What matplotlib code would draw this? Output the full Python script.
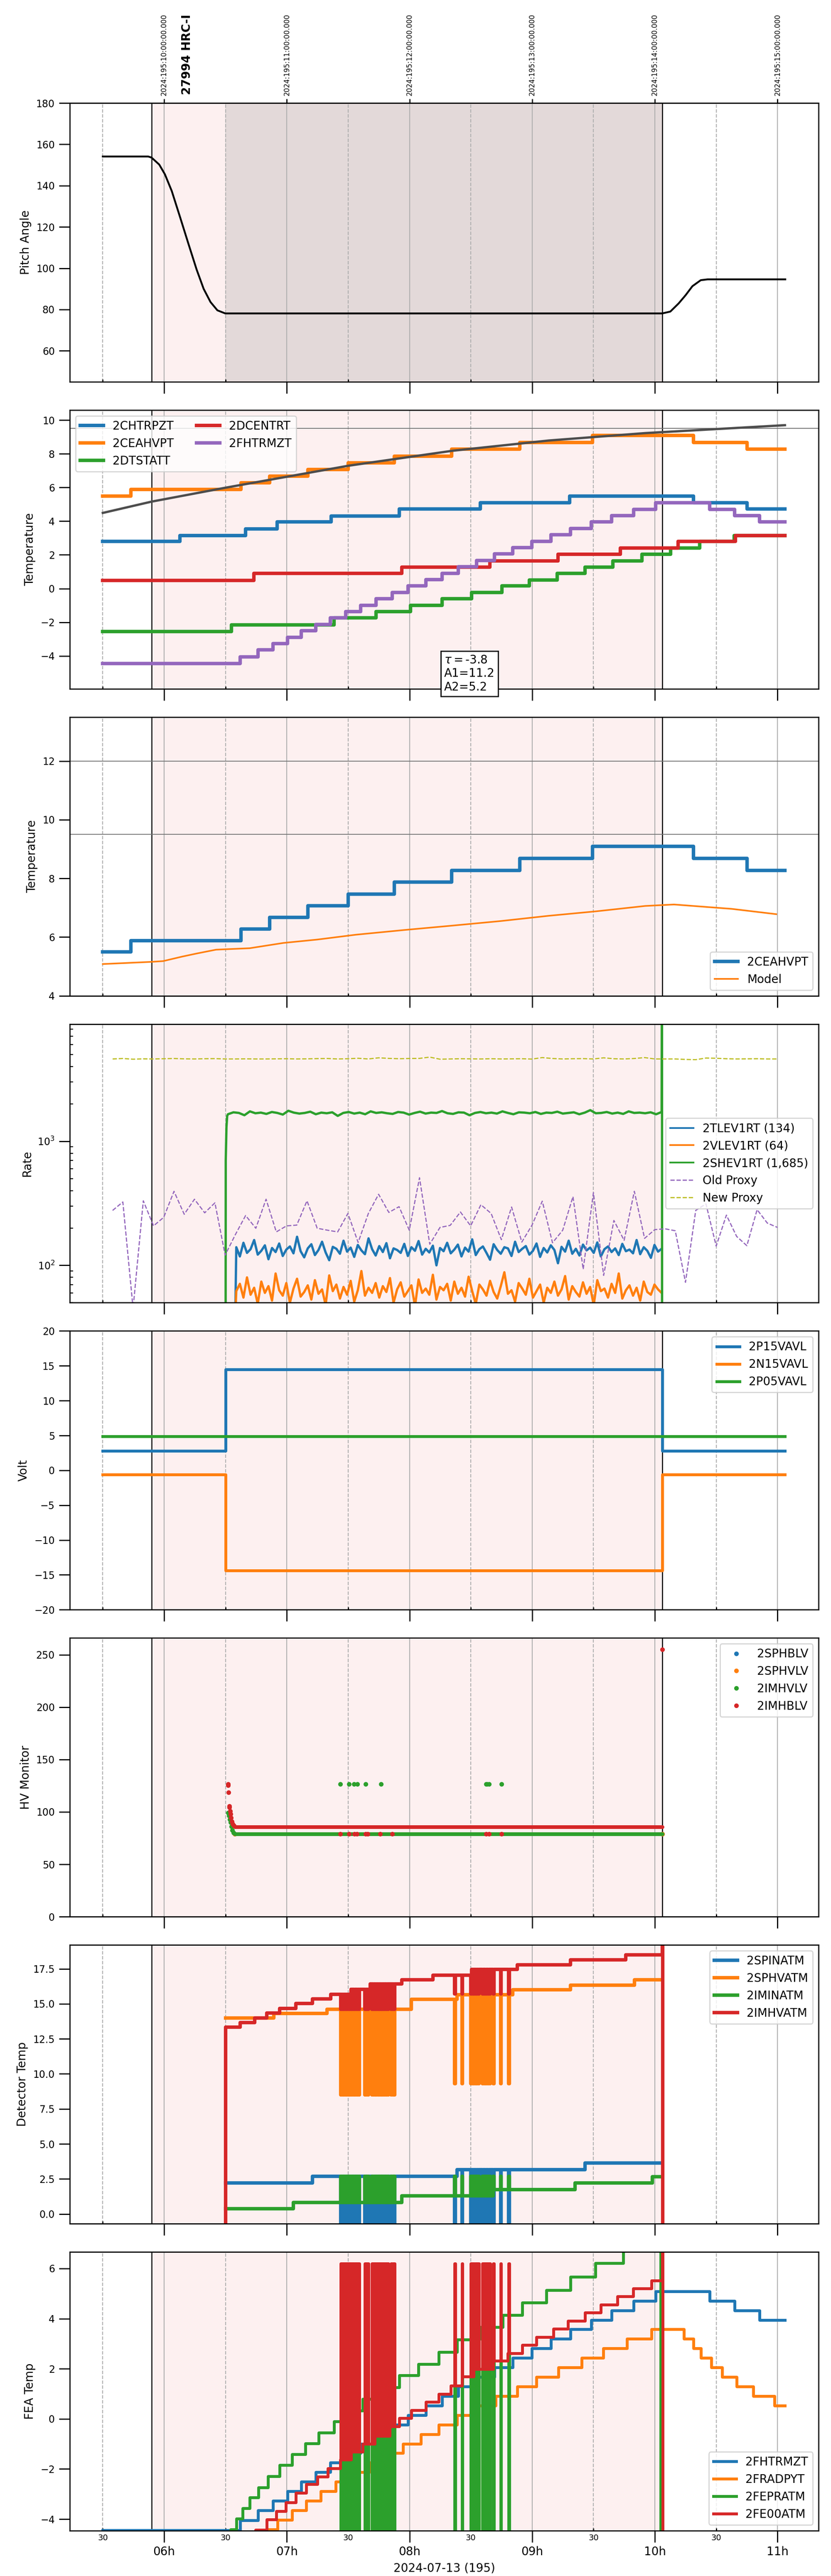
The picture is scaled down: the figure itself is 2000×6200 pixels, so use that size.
import numpy as np
import matplotlib
matplotlib.use('Agg')
import matplotlib.pyplot as plt
from matplotlib.ticker import FixedLocator, FixedFormatter
import matplotlib.transforms as mtransforms

# times are hours of 2024-07-13 (local), UTC = local + 4h
obs_start, obs_stop = 5.897, 10.061
dwell_start = 6.498
x_lim = (5.231, 11.334)
hour_ticks = [6, 7, 8, 9, 10, 11]
hour_labels = ['06h', '07h', '08h', '09h', '10h', '11h']
half_ticks = [5.5, 6.5, 7.5, 8.5, 9.5, 10.5]
half_labels = ['30', '30', '30', '30', '30', '30']
utc_labels = ['2024:195:10:00:00.000', '2024:195:11:00:00.000', '2024:195:12:00:00.000',
              '2024:195:13:00:00.000', '2024:195:14:00:00.000', '2024:195:15:00:00.000']
obsid_label = '27994 HRC-I'
obsid_x = 6.186

# pitch
pitch_t = [5.5, 5.870, 5.897, 5.960, 6.006, 6.062, 6.130, 6.197, 6.265, 6.322, 6.378, 6.434, 6.498,
           10.060, 10.126, 10.193, 10.250, 10.306, 10.374, 10.430, 11.063]
pitch_v = [154.1, 154.1, 153.6, 150.2, 145.5, 137.4, 124.7, 112.0, 99.3, 90.0, 83.6, 79.6, 78.1,
           78.1, 79.0, 82.9, 86.9, 91.3, 94.2, 94.6, 94.6]

# temperature panel (step series: change times, levels, last entry = end)
chtrpzt_t = [5.5, 6.129, 6.663, 6.922, 7.362, 7.917, 8.577, 9.304, 10.313, 10.750, 11.06]
chtrpzt_v = [2.79, 3.15, 3.55, 3.96, 4.31, 4.72, 5.10, 5.48, 5.10, 4.72, 4.72]
ceahvpt_t = [5.5, 5.728, 6.628, 6.860, 7.170, 7.500, 7.877, 8.345, 8.899, 9.492, 10.313, 10.750, 11.06]
ceahvpt_v = [5.49, 5.88, 6.28, 6.67, 7.07, 7.47, 7.87, 8.27, 8.68, 9.09, 8.68, 8.27, 8.27]
dtstatt_t = [5.5, 6.549, 7.386, 7.728, 8.007, 8.266, 8.506, 8.753, 8.977, 9.205, 9.429, 9.657,
             9.893, 10.129, 10.364, 10.647, 11.06]
dtstatt_v = [-2.55, -2.15, -1.75, -1.37, -0.99, -0.61, -0.23, 0.15, 0.51, 0.89, 1.27, 1.65,
             2.03, 2.41, 2.79, 3.15, 3.15]
dcentrt_t = [5.5, 6.730, 7.936, 8.655, 9.209, 9.720, 10.188, 10.655, 11.06]
dcentrt_v = [0.49, 0.89, 1.27, 1.65, 2.03, 2.41, 2.79, 3.15, 3.15]
fhtrmzt_t = [5.5, 6.620, 6.765, 6.887, 7.005, 7.119, 7.237, 7.355, 7.480, 7.602, 7.728, 7.858,
             7.987, 8.133, 8.266, 8.396, 8.545, 8.691, 8.840, 8.997, 9.154, 9.311, 9.480, 9.649,
             9.826, 10.007, 10.447, 10.651, 10.852, 11.06]
fhtrmzt_v = [-4.45, -4.05, -3.65, -3.27, -2.89, -2.51, -2.13, -1.75, -1.37, -0.99, -0.61, -0.23,
             0.15, 0.53, 0.91, 1.29, 1.67, 2.05, 2.43, 2.81, 3.19, 3.57, 3.95, 4.33,
             4.71, 5.09, 4.71, 4.33, 3.95, 3.95]
trend_t = [5.5, 5.897, 6.502, 7.5, 8.349, 9.135, 9.921, 11.06]
trend_v = [4.49, 5.16, 5.99, 7.29, 8.18, 8.79, 9.23, 9.70]
fit_text = '$\\tau=$-3.8\nA1=11.2\nA2=5.2'

# model panel
model_t = [5.5, 5.897, 5.991, 6.148, 6.266, 6.423, 6.698, 6.973, 7.249, 7.563, 7.956, 8.349,
           8.742, 9.135, 9.528, 9.921, 10.156, 10.313, 10.628, 10.989]
model_v = [5.08, 5.155, 5.18, 5.335, 5.44, 5.57, 5.62, 5.80, 5.915, 6.08, 6.24, 6.39,
           6.545, 6.725, 6.88, 7.06, 7.11, 7.06, 6.96, 6.78]

# rates
tlev_vals = [140, 118, 152, 126, 135, 160, 122, 131, 145, 112, 138, 128, 150, 119, 134, 142, 125, 170, 130, 116,
             137, 148, 121, 133, 155, 127, 110, 141, 136, 124, 158, 129, 139, 117, 146, 132, 123, 165, 135, 120,
             143, 128, 151, 114, 137, 133, 126, 149, 119, 140, 131, 157, 122, 136, 127, 144, 100, 138, 130, 152,
             125, 134, 147, 118, 139, 129, 162, 121, 135, 142, 126, 111, 148, 133, 124, 140, 137, 119, 155, 128,
             136, 143, 122, 131, 150, 117, 138, 127, 145, 133, 104, 141, 129, 158, 124, 136, 120, 147, 132, 139,
             126, 153, 118, 135, 142, 128, 137, 121, 149, 130, 134, 125, 160, 123, 140, 131, 115, 146, 129, 136]
vlev_vals = [62, 71, 55, 80, 58, 66, 49, 74, 60, 68, 52, 86, 63, 57, 72, 50, 65, 78, 56, 61,
             69, 53, 76, 59, 64, 48, 83, 62, 70, 54, 67, 58, 75, 51, 63, 90, 57, 66, 60, 72,
             55, 68, 61, 79, 50, 64, 73, 56, 62, 69, 47, 77, 60, 65, 58, 84, 53, 67, 63, 71,
             52, 74, 59, 66, 56, 81, 62, 49, 70, 64, 57, 75, 61, 54, 68, 88, 59, 63, 51, 72,
             65, 58, 78, 55, 62, 70, 50, 66, 60, 74, 57, 64, 82, 53, 68, 61, 56, 73, 59, 67,
             48, 76, 62, 65, 55, 71, 60, 86, 54, 63, 69, 57, 66, 52, 74, 61, 58, 70, 64, 60]
shev_vals = [1650, 1710, 1690, 1620, 1740, 1680, 1700, 1660, 1720, 1690, 1640, 1760, 1700, 1670, 1690, 1730,
             1650, 1700, 1680, 1710, 1600, 1690, 1720, 1670, 1700, 1650, 1740, 1690, 1710, 1680, 1660, 1720,
             1700, 1640, 1690, 1730, 1670, 1700, 1690, 1750, 1680, 1660, 1710, 1700, 1620, 1690, 1720, 1680,
             1700, 1670, 1740, 1690, 1650, 1710, 1700, 1680, 1720, 1660, 1700, 1690, 1730, 1670, 1690, 1710,
             1650, 1700, 1780, 1680, 1690, 1720, 1670, 1700, 1660, 1740, 1690, 1700, 1680, 1710, 1650, 1720]
lev_span = (6.588, 10.055)
shev_span = (6.52, 10.055)
shev_lead_t = [6.500, 6.502, 6.508, 6.514]
shev_lead_v = [1, 700, 1300, 1600]
shev_tail_t = [10.058, 10.059]
shev_tail_v = [1e5, 1]
lev_lead_t = 6.580
lev_lead_v = 40
old_proxy = [277, 324, 45, 331, 208, 244, 395, 258, 341, 265,
             319, 121, 177, 252, 199, 341, 186, 208, 211, 331,
             199, 192, 186, 262, 153, 262, 374, 267, 297, 192,
             508, 148, 202, 210, 269, 208, 308, 262, 161, 295,
             154, 211, 329, 152, 192, 358, 93, 385, 83, 230,
             159, 395, 165, 194, 197, 190, 73, 277, 313, 143,
             254, 171, 144, 281, 219, 202]
new_proxy = [4600, 4640, 4580, 4610, 4600, 4620, 4640, 4610, 4600, 4620,
             4630, 4600, 4600, 4610, 4600, 4600, 4610, 4620, 4600, 4610,
             4630, 4640, 4600, 4620, 4660, 4600, 4700, 4650, 4620, 4640,
             4650, 4760, 4580, 4600, 4620, 4610, 4600, 4620, 4600, 4610,
             4620, 4590, 4720, 4640, 4600, 4620, 4630, 4600, 4700, 4620,
             4600, 4640, 4720, 4600, 4600, 4600, 4560, 4540, 4680, 4660,
             4620, 4600, 4610, 4620, 4600, 4600]
proxy_span = (5.58, 11.0)

# voltages
volt_t = [5.5, 6.502, 10.060, 11.06]
p15_v = [2.81, 14.49, 2.81, 2.81]
n15_v = [-0.60, -14.39, -0.60, -0.60]
p05_t = [5.5, 11.06]
p05_v = [4.86, 4.86]

# HV monitor
hv_run = (6.575, 10.060)
sphblv_level = 78.8
sphvlv_level = 78.8
imhvlv_level = 78.8
imhblv_level = 85.7
imhvlv_t = [6.522, 6.528, 6.534, 6.540, 6.548, 6.556, 6.565,
            7.437, 7.508, 7.547, 7.575, 7.641, 7.767, 8.624, 8.632, 8.647, 8.750]
imhvlv_v = [99.0, 96.5, 93.0, 90.0, 86.0, 82.5, 80.0,
            126.6, 126.6, 126.6, 126.6, 126.6, 126.6, 126.6, 126.6, 126.6, 126.6]
imhblv_t = [6.522, 6.523, 6.526, 6.530, 6.533, 6.537, 6.541, 6.546, 6.552, 6.560, 6.568,
            7.437, 7.508, 7.550, 7.570, 7.641, 7.660, 7.760, 7.860, 8.624, 8.647, 8.750, 10.062]
imhblv_v = [126.6, 125.5, 118.6, 105.5, 104.5, 100.6, 98.0, 94.5, 91.0, 88.5, 87.0,
            78.8, 78.8, 78.8, 78.8, 78.8, 78.8, 78.8, 78.8, 78.8, 78.8, 78.8, 255.0]

# dropout pulses seen in detector and FEA temperatures
pulse_t = [7.440, 7.452, 7.464, 7.476, 7.488, 7.500, 7.512, 7.524, 7.536, 7.548, 7.560, 7.572, 7.584,
           7.636, 7.648, 7.660, 7.692, 7.704, 7.716, 7.728, 7.740, 7.752, 7.764, 7.776, 7.788, 7.800,
           7.812, 7.824, 7.848, 7.862, 7.874,
           8.368, 8.427, 8.500, 8.512, 8.524, 8.536, 8.548, 8.560, 8.594, 8.606, 8.618, 8.630, 8.642,
           8.654, 8.683, 8.742, 8.809]

# detector temps
spinatm_t = [6.502, 7.209, 8.388, 9.429, 10.046]
spinatm_v = [2.21, 2.70, 3.16, 3.65, 3.65]
spinatm_drop = (-1.5, -1.5)
sphvatm_t = [6.502, 6.895, 7.327, 8.015, 8.388, 8.840, 9.311, 9.834, 10.046]
sphvatm_v = [13.98, 14.30, 14.60, 15.31, 15.66, 16.01, 16.34, 16.72, 16.72]
sphvatm_drop = (8.5, 9.3)
iminatm_t = [6.502, 7.052, 7.936, 8.683, 9.351, 9.979, 10.046]
iminatm_v = [0.37, 0.83, 1.29, 1.75, 2.21, 2.65, 2.65]
iminatm_drop = (2.70, 2.70)
imhvatm_t = [6.495, 6.502, 6.620, 6.738, 6.836, 6.942, 7.072, 7.209, 7.358, 7.524, 7.680, 7.936,
             8.192, 8.506, 8.879, 9.311, 9.763, 10.062, 10.063, 10.064]
imhvatm_v = [-2.0, 13.33, 13.65, 13.98, 14.33, 14.66, 15.01, 15.34, 15.69, 16.04, 16.42, 16.72,
             17.04, 17.45, 17.78, 18.13, 18.48, 25.0, -5.0, -5.0]
imhvatm_drop = (14.6, 15.7)

# FEA temps
fradpyt_t = [5.5, 6.848, 6.926, 7.044, 7.158, 7.276, 7.398, 7.524, 7.673, 7.818, 7.948, 8.093,
             8.239, 8.388, 8.545, 8.702, 8.879, 9.036, 9.213, 9.402, 9.579, 9.771, 9.972, 10.235,
             10.313, 10.376, 10.459, 10.549, 10.667, 10.801, 10.974, 11.06]
fradpyt_v = [-4.8, -4.41, -4.03, -3.65, -3.27, -2.89, -2.51, -2.13, -1.75, -1.37, -0.99, -0.61,
             -0.23, 0.15, 0.53, 0.91, 1.29, 1.67, 2.05, 2.43, 2.81, 3.19, 3.57, 3.19,
             2.81, 2.43, 2.05, 1.67, 1.29, 0.91, 0.53, 0.53]
fepratm_t = [5.5, 6.541, 6.588, 6.640, 6.698, 6.769, 6.848, 6.942, 7.044, 7.150, 7.260, 7.386,
             7.500, 7.620, 7.750, 7.917, 8.074, 8.239, 8.388, 8.570, 8.760, 8.918, 9.115, 9.311,
             9.516, 9.743, 10.046, 10.050]
fepratm_v = [-4.8, -4.41, -3.98, -3.56, -3.14, -2.73, -2.29, -1.85, -1.42, -0.98, -0.55, -0.11,
             0.33, 0.79, 1.26, 1.73, 2.18, 2.66, 3.16, 3.66, 4.14, 4.64, 5.14, 5.66,
             6.21, 6.75, -5.0, -5.0]
fepratm_drop = (-5.0, -5.0)
fe00atm_t = [5.5, 6.746, 6.836, 6.915, 6.993, 7.072, 7.158, 7.249, 7.335, 7.437, 7.530, 7.620,
             7.720, 7.838, 7.917, 8.015, 8.133, 8.239, 8.337, 8.427, 8.526, 8.683, 8.801, 8.919,
             9.036, 9.174, 9.292, 9.429, 9.559, 9.696, 9.822, 9.972, 10.062, 10.063, 10.064]
fe00atm_v = [-4.8, -4.43, -4.02, -3.68, -3.33, -2.95, -2.61, -2.31, -1.97, -1.63, -1.32, -0.99,
             -0.68, -0.30, 0.03, 0.35, 0.67, 0.99, 1.33, 1.68, 1.98, 2.31, 2.61, 2.94,
             3.27, 3.60, 3.91, 4.24, 4.56, 4.89, 5.20, 5.52, 10.0, -10.0, -10.0]
fe00atm_drop = (6.19, 6.19)

PINK = '#fdf0f0'
DWELL = '#e3d9d9'
GRID = '#b0b0b0'


def with_pulses(t, v, pulses, drop, width=0.006):
    ''' Insert short dropouts into a step series '''
    t = np.asarray(t, float)
    v = np.asarray(v, float)
    pts = list(zip(t, v))
    for p in pulses:
        if p <= t[0] or p >= t[-1]:
            continue
        base = v[np.searchsorted(t, p + width, side='right') - 1]
        pts.append((p, drop[0] if p < 8 else drop[1]))
        pts.append((p + width, base))
    pts.sort(key=lambda q: q[0])
    arr = np.array(pts)
    return arr[:, 0], arr[:, 1]


def decorate(ax):
    ax.axvspan(obs_start, obs_stop, color=PINK, lw=0, zorder=0)
    ax.axvline(obs_start, color='black', lw=0.9, zorder=1.6)
    ax.axvline(obs_stop, color='black', lw=0.9, zorder=1.6)
    ax.grid(True, which='major', axis='x', color=GRID, lw=0.8)
    ax.grid(True, which='minor', axis='x', color=GRID, lw=0.8, ls='--')
    ax.tick_params(axis='y', which='major', length=9.5, width=1, labelsize=8.5)
    ax.tick_params(axis='y', which='minor', direction='in', length=3, width=0.8)
    ax.tick_params(axis='x', which='major', length=10, width=1, labelsize=10)
    ax.tick_params(axis='x', which='minor', direction='in', length=2, width=1,
                   labelsize=7, pad=3)


plt.rcParams['axes.linewidth'] = 1.0
fig, axes = plt.subplots(8, 1, figsize=(10, 31), dpi=200, sharex=True)
fig.subplots_adjust(left=0.084, right=0.985, top=0.96, bottom=0.0176, hspace=0.1014)

for ax in axes:
    decorate(ax)
axes[-1].xaxis.set_major_locator(FixedLocator(hour_ticks))
axes[-1].xaxis.set_minor_locator(FixedLocator(half_ticks))
axes[-1].xaxis.set_major_formatter(FixedFormatter(hour_labels))
axes[-1].xaxis.set_minor_formatter(FixedFormatter(half_labels))
axes[-1].set_xlim(*x_lim)
axes[-1].set_xlabel('2024-07-13 (195)', fontsize=10, labelpad=4)

# 1: pitch
ax = axes[0]
ax.axvspan(dwell_start, obs_stop, color=DWELL, lw=0, zorder=0.5)
ax.plot(pitch_t, pitch_v, color='black', lw=1.6)
ax.set_ylim(45, 180)
ax.set_ylabel('Pitch Angle')
sec = ax.secondary_xaxis('top')
sec.set_xticks(hour_ticks)
sec.set_xticklabels(utc_labels, rotation=90, fontsize=6)
sec.tick_params(axis='x', length=3.5, width=1, pad=3)
trans = mtransforms.blended_transform_factory(ax.transData, ax.transAxes)
ax.text(obsid_x, 1.03, obsid_label, transform=trans, rotation=90, ha='center', va='bottom',
        fontsize=10, fontweight='bold')

# 2: temperatures
ax = axes[1]
ax.axhline(9.5, color='0.45', lw=0.7, zorder=1.7)
ax.plot(chtrpzt_t, chtrpzt_v, drawstyle='steps-post', lw=3, color='tab:blue', label='2CHTRPZT')
ax.plot(ceahvpt_t, ceahvpt_v, drawstyle='steps-post', lw=3, color='tab:orange', label='2CEAHVPT')
ax.plot(dtstatt_t, dtstatt_v, drawstyle='steps-post', lw=3, color='tab:green', label='2DTSTATT')
ax.plot(dcentrt_t, dcentrt_v, drawstyle='steps-post', lw=3, color='tab:red', label='2DCENTRT')
ax.plot(fhtrmzt_t, fhtrmzt_v, drawstyle='steps-post', lw=3, color='tab:purple', label='2FHTRMZT')
ax.plot(trend_t, trend_v, color='0.3', lw=2)
ax.set_ylim(-5.95, 10.6)
ax.set_yticks(np.arange(-4, 11, 2))
ax.set_ylabel('Temperature')
ax.legend(loc='upper left', ncol=2, fontsize=10)
ax.text(0.5, -0.015, fit_text, transform=ax.transAxes, ha='left', va='bottom', fontsize=10,
        bbox=dict(boxstyle='square,pad=0.3', fc='white', ec='black'), zorder=5)

# 3: model
ax = axes[2]
ax.axhline(12, color='0.45', lw=0.7, zorder=1.7)
ax.axhline(9.5, color='0.45', lw=0.7, zorder=1.7)
ax.plot(ceahvpt_t, ceahvpt_v, drawstyle='steps-post', lw=3, color='tab:blue', label='2CEAHVPT')
ax.plot(model_t, model_v, lw=1.4, color='tab:orange', label='Model')
ax.set_ylim(4, 13.5)
ax.set_ylabel('Temperature')
ax.legend(loc='lower right', fontsize=10)

# 4: rates
ax = axes[3]
lev_t = np.linspace(lev_span[0], lev_span[1], len(tlev_vals))
ax.plot(np.r_[lev_lead_t, lev_t], np.r_[lev_lead_v, tlev_vals], lw=2.0, color='tab:blue',
        label='2TLEV1RT (134)')
lev_t = np.linspace(lev_span[0], lev_span[1], len(vlev_vals))
ax.plot(np.r_[lev_lead_t, lev_t], np.r_[lev_lead_v, vlev_vals], lw=2.0, color='tab:orange',
        label='2VLEV1RT (64)')
sh_t = np.linspace(shev_span[0], shev_span[1], len(shev_vals))
ax.plot(np.r_[shev_lead_t, sh_t, shev_tail_t], np.r_[shev_lead_v, shev_vals, shev_tail_v],
        lw=2.0, color='tab:green', label='2SHEV1RT (1,685)')
px_t = np.linspace(proxy_span[0], proxy_span[1], len(old_proxy))
ax.plot(px_t, old_proxy, ls='--', lw=1, color='tab:purple', label='Old Proxy')
px_t = np.linspace(proxy_span[0], proxy_span[1], len(new_proxy))
ax.plot(px_t, new_proxy, ls='--', lw=1, color='tab:olive', label='New Proxy')
ax.set_yscale('log')
ax.set_ylim(50, 8800)
ax.set_ylabel('Rate')
leg = ax.legend(loc='center right', fontsize=10)
for line in leg.get_lines()[:3]:
    line.set_linewidth(1.5)

# 5: voltages
ax = axes[4]
ax.plot(volt_t, p15_v, drawstyle='steps-post', lw=2.5, color='tab:blue', label='2P15VAVL')
ax.plot(volt_t, n15_v, drawstyle='steps-post', lw=2.5, color='tab:orange', label='2N15VAVL')
ax.plot(p05_t, p05_v, lw=2.5, color='tab:green', label='2P05VAVL')
ax.set_ylim(-20, 20)
ax.set_yticks(np.arange(-20, 21, 5))
ax.set_ylabel('Volt')
ax.legend(loc='upper right', fontsize=10)

# 6: HV monitor
ax = axes[5]
for lvl, col, lab in [(sphblv_level, 'tab:blue', '2SPHBLV'),
                      (sphvlv_level, 'tab:orange', '2SPHVLV')]:
    ax.plot(hv_run, [lvl, lvl], lw=3.2, color=col, solid_capstyle='round')
    ax.plot(hv_run, [lvl, lvl], 'o', ms=3, color=col, label=lab)
ax.plot(hv_run, [imhvlv_level, imhvlv_level], lw=3.2, color='tab:green', solid_capstyle='round')
ax.plot(imhvlv_t, imhvlv_v, 'o', ms=3, color='tab:green', label='2IMHVLV')
ax.plot(hv_run, [imhblv_level, imhblv_level], lw=3.2, color='tab:red', solid_capstyle='round')
ax.plot(imhblv_t, imhblv_v, 'o', ms=3, color='tab:red', label='2IMHBLV')
ax.set_ylim(0, 266)
ax.set_ylabel('HV Monitor')
ax.legend(loc='upper right', fontsize=10)

# 7: detector temps
ax = axes[6]
for t, v, d, col, lab in [(spinatm_t, spinatm_v, spinatm_drop, 'tab:blue', '2SPINATM'),
                          (sphvatm_t, sphvatm_v, sphvatm_drop, 'tab:orange', '2SPHVATM'),
                          (iminatm_t, iminatm_v, iminatm_drop, 'tab:green', '2IMINATM'),
                          (imhvatm_t, imhvatm_v, imhvatm_drop, 'tab:red', '2IMHVATM')]:
    tt, vv = with_pulses(t, v, pulse_t, d)
    ax.plot(tt, vv, drawstyle='steps-post', lw=3, color=col, label=lab)
ax.set_ylim(-0.69, 19.2)
ax.set_ylabel('Detector Temp')
ax.legend(loc='upper right', fontsize=10)

# 8: FEA temps
ax = axes[7]
ax.plot(fhtrmzt_t, fhtrmzt_v, drawstyle='steps-post', lw=2.5, color='tab:blue', label='2FHTRMZT')
ax.plot(fradpyt_t, fradpyt_v, drawstyle='steps-post', lw=2.5, color='tab:orange', label='2FRADPYT')
tt, vv = with_pulses(fepratm_t, fepratm_v, pulse_t, fepratm_drop)
ax.plot(tt, vv, drawstyle='steps-post', lw=2.5, color='tab:green', label='2FEPRATM')
tt, vv = with_pulses(fe00atm_t, fe00atm_v, pulse_t, fe00atm_drop)
ax.plot(tt, vv, drawstyle='steps-post', lw=2.5, color='tab:red', label='2FE00ATM')
ax.set_ylim(-4.46, 6.66)
ax.set_ylabel('FEA Temp')
ax.legend(loc='lower right', fontsize=10)

fig.savefig('out.png', dpi=200)
